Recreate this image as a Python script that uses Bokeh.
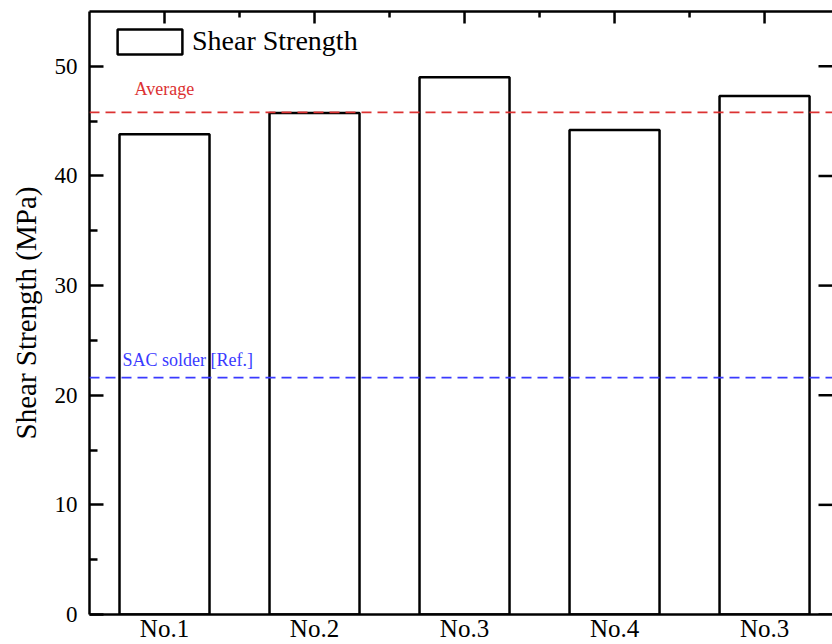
import math
from bokeh.plotting import figure
from bokeh.models import (ColumnDataSource, LinearAxis, FixedTicker, Span, Label,
                          Legend, LegendItem, Range1d)
from bokeh.embed import file_html
from bokeh.resources import INLINE

# ---- data ----
categories = ["No.1", "No.2", "No.3", "No.4", "No.3"]
shear_strength = [43.8, 45.75, 49.0, 44.2, 47.3]
average_value = 45.8
sac_reference = 21.6
y_ticks = [0, 10, 20, 30, 40, 50]
y_minor_ticks = [5, 15, 25, 35, 45]

positions = list(range(1, len(categories) + 1))
mid_positions = [p_ + 0.5 for p_ in positions[:-1]]

FONT = "'Liberation Serif', 'Times New Roman', serif"
RED = "#dc3232"
BLUE = "#3a3aff"

X_START, X_END = 0.5, 5.453
Y_START, Y_END = 0, 55

source = ColumnDataSource(dict(x=positions, top=shear_strength, name=categories))

p = figure(width=832, height=644,
           x_range=Range1d(X_START, X_END), y_range=Range1d(Y_START, Y_END),
           output_backend="svg", toolbar_location=None,
           min_border_left=89, min_border_right=0,
           min_border_top=11, min_border_bottom=29)
p.outline_line_color = None
p.xgrid.visible = False
p.ygrid.visible = False
p.background_fill_color = "white"
p.border_fill_color = "white"

r = p.vbar(x="x", top="top", width=0.6, bottom=0, source=source,
           fill_color=None, line_color="black", line_width=2.5)

# reference lines
p.add_layout(Span(location=average_value, dimension="width", line_color=RED,
                  line_dash="10 6", line_width=1.8))
p.add_layout(Span(location=sac_reference, dimension="width", line_color=BLUE,
                  line_dash="10 6", line_width=1.8))
p.add_layout(Label(x=0.8, y=47.0, text="Average", text_font=FONT,
                   text_font_size="18px", text_color=RED))
p.add_layout(Label(x=0.72, y=22.3, text="SAC solder [Ref.]", text_font=FONT,
                   text_font_size="18px", text_color=BLUE))

# bottom axis
xa = p.xaxis[0]
xa.ticker = FixedTicker(ticks=positions)
xa.major_label_overrides = {pos: lab for pos, lab in zip(positions, categories)}
xa.major_tick_in = 0
xa.major_tick_out = 0
xa.minor_tick_in = 0
xa.minor_tick_out = 0
xa.major_label_standoff = 0
xa.major_label_text_font = FONT
xa.major_label_text_font_size = "25px"
xa.major_label_text_color = "black"
xa.axis_line_width = 2.5
xa.axis_line_color = "black"

# left axis
ya = p.yaxis[0]
ya.ticker = FixedTicker(ticks=y_ticks, minor_ticks=y_minor_ticks)
ya.major_tick_in = 14
ya.major_tick_out = 0
ya.minor_tick_in = 8
ya.minor_tick_out = 0
ya.major_tick_line_width = 2.5
ya.minor_tick_line_width = 2.5
ya.axis_line_width = 2.5
ya.major_label_standoff = 12
ya.major_label_text_font = FONT
ya.major_label_text_font_size = "23px"
ya.major_label_text_color = "black"
ya.axis_label = "Shear Strength (MPa)"
ya.axis_label_text_font = FONT
ya.axis_label_text_font_size = "29px"
ya.axis_label_text_font_style = "normal"
ya.axis_label_text_color = "black"
ya.axis_label_standoff = 10

# top axis: line only, ticks drawn as screen-length rays
ta = LinearAxis(ticker=FixedTicker(ticks=[], minor_ticks=[]))
ta.major_tick_in = 0
ta.major_tick_out = 0
ta.minor_tick_in = 0
ta.minor_tick_out = 0
ta.axis_line_width = 2.5
ta.major_label_standoff = 0
p.add_layout(ta, "above")

p.ray(x=positions, y=[Y_END] * len(positions), length=12, length_units="screen",
      angle=-math.pi / 2, line_color="black", line_width=2.5)
p.ray(x=mid_positions, y=[Y_END] * len(mid_positions), length=6, length_units="screen",
      angle=-math.pi / 2, line_color="black", line_width=2.5)
# right side ticks (the right frame line itself lies just outside the picture)
p.ray(x=[X_END] * len(y_ticks), y=y_ticks, length=14, length_units="screen",
      angle=math.pi, line_color="black", line_width=2.5)

legend = Legend(items=[LegendItem(label="Shear Strength", renderers=[r])],
                location=(20, 557), glyph_width=81, glyph_height=31,
                label_height=31, label_standoff=2, padding=0, margin=0,
                spacing=0, border_line_alpha=0, background_fill_alpha=0,
                label_text_font=FONT, label_text_font_size="28px",
                label_text_color="black")
p.add_layout(legend)

open("out.html", "w").write(file_html(p, INLINE))
